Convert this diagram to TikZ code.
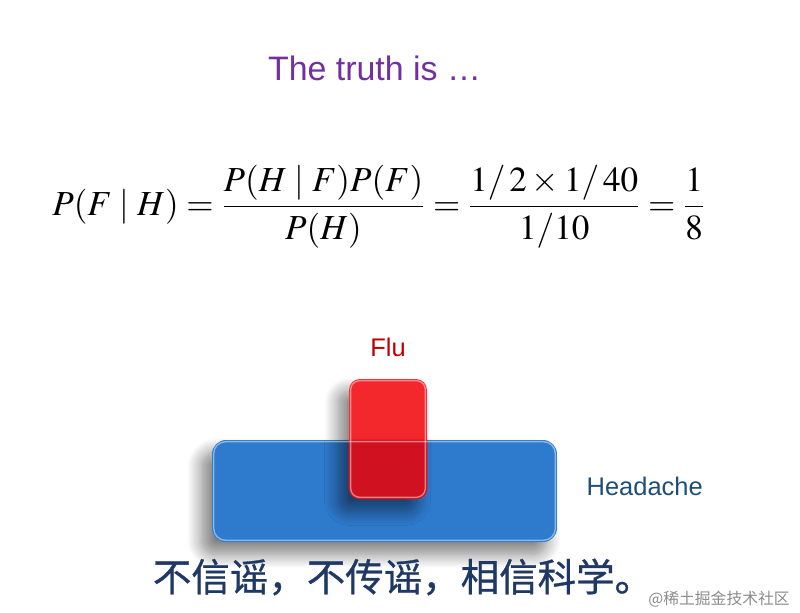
\documentclass[tikz,border=0pt]{standalone}
\usepackage{amsmath}
\usepackage{mathptmx}
\usepackage[no-math]{fontspec}
\setmainfont{Liberation Sans}
\newfontfamily\cjk{Noto Sans CJK SC}
\newfontfamily\cjkbold[FakeBold=0.8]{Noto Sans CJK SC}
\usepackage{tikz}
\usetikzlibrary{positioning, shadows.blur}
\usepackage{xcolor}
\definecolor{titlepurple}{RGB}{112,48,160}
\definecolor{headblue}{RGB}{46,122,205}
\definecolor{flured}{RGB}{243,40,44}
\definecolor{fludark}{RGB}{208,18,32}
\definecolor{flutext}{RGB}{192,0,0}
\definecolor{headtext}{RGB}{31,78,121}
\definecolor{slogan}{RGB}{31,56,100}

\begin{document}
\begin{tikzpicture}[
x=0.02cm, y=-0.02cm,
box/.style={rounded corners=0.28cm, inner sep=0pt},
boxshadow/.style={blur shadow={shadow xshift=-6pt, shadow yshift=-7pt, shadow blur radius=8pt, shadow blur steps=14, shadow opacity=50}},
boxlabel/.style={inner sep=0pt, font=\fontsize{14.5}{17}\selectfont}
]

\useasboundingbox (0,0) rectangle (800,612);

\node (title) [anchor=base, text=titlepurple, font=\fontsize{19.3}{22}\selectfont] at (374.5,80) {The truth is …};

\node (bayes) [anchor=base west, inner sep=0pt, font=\fontsize{20}{24}\selectfont] at (52,215)
  {$\displaystyle P(F\mid H)=\frac{P(H\mid F)P(F)}{P(H)}=\frac{1/\,2\times1/\,40}{1/10}=\frac{1}{8}$};

% the two boxes
\node (headache) [box, fill=headblue, boxshadow, minimum width=6.9cm, minimum height=2.04cm] at (384.5,491) {};
\node (flu) [box, rounded corners=0.22cm, fill=flured, boxshadow, minimum width=1.56cm, minimum height=2.4cm] at (388,439) {};
\begin{scope}
\clip[rounded corners=0.28cm] (headache.north west) rectangle (headache.south east);
\fill[fludark, rounded corners=0.22cm] (flu.north west) rectangle (flu.south east);
\end{scope}
\draw[white, opacity=0.45, line width=0.8pt, rounded corners=0.24cm] ([shift={(2,2)}]headache.north west) rectangle ([shift={(-2,-2)}]headache.south east);
\draw[white, opacity=0.45, line width=0.8pt, rounded corners=0.18cm] ([shift={(2,2)}]flu.north west) rectangle ([shift={(-2,-2)}]flu.south east);

\node (flulabel) [boxlabel, text=flutext, above=0.44cm of flu] {Flu};
\node (headlabel) [boxlabel, text=headtext, right=0.58cm of headache, yshift=0.09cm] {Headache};

\node (motto) [text=slogan, font=\cjkbold\fontsize{21.9}{26}\selectfont] at (403,577) {不信谣，不传谣，相信科学。};
\node (mark) [anchor=east, text=black!45, font=\cjk\fontsize{9}{11}\selectfont] at (796,599) {@稀土掘金技术社区};

\end{tikzpicture}
\end{document}
